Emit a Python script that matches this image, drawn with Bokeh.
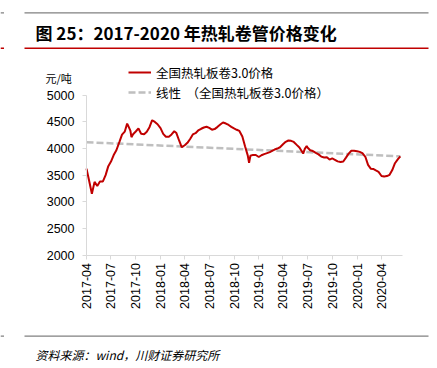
import math
import numpy as np
import pandas as pd
from bokeh.plotting import figure
from bokeh.models import (Range1d, FixedTicker, DatetimeTickFormatter, Label,
                          BoxAnnotation, Legend, LegendItem, ColumnDataSource)
from bokeh.embed import file_html
from bokeh.resources import INLINE

# ---------------- data ----------------
dates = [
    "2017-04-01", "2017-04-11", "2017-04-21", "2017-05-01", "2017-05-11", "2017-05-21",
    "2017-06-01", "2017-06-11", "2017-06-21", "2017-07-01", "2017-07-11", "2017-07-21",
    "2017-08-01", "2017-08-11", "2017-08-21", "2017-08-30", "2017-09-01", "2017-09-11",
    "2017-09-15", "2017-09-21", "2017-10-01", "2017-10-11", "2017-10-21", "2017-11-01",
    "2017-11-11", "2017-11-21", "2017-12-01", "2017-12-11", "2017-12-21", "2018-01-01",
    "2018-01-11", "2018-01-21", "2018-02-01", "2018-02-11", "2018-02-21", "2018-03-01",
    "2018-03-11", "2018-03-21", "2018-04-01", "2018-04-11", "2018-04-21", "2018-05-01",
    "2018-05-11", "2018-05-21", "2018-06-01", "2018-06-11", "2018-06-21", "2018-07-01",
    "2018-07-11", "2018-07-21", "2018-08-01", "2018-08-11", "2018-08-21", "2018-09-01",
    "2018-09-11", "2018-09-21", "2018-10-01", "2018-10-11", "2018-10-21", "2018-11-01",
    "2018-11-11", "2018-11-21", "2018-11-26", "2018-12-01", "2018-12-11", "2018-12-21",
    "2019-01-01", "2019-01-11", "2019-01-21", "2019-02-01", "2019-02-11", "2019-02-21",
    "2019-03-01", "2019-03-11", "2019-03-21", "2019-04-01", "2019-04-11", "2019-04-21",
    "2019-05-01", "2019-05-11", "2019-05-21", "2019-06-01", "2019-06-15", "2019-06-21",
    "2019-06-28", "2019-07-01", "2019-07-11", "2019-07-21", "2019-08-01", "2019-08-11",
    "2019-08-21", "2019-09-01", "2019-09-11", "2019-09-21", "2019-10-01", "2019-10-11",
    "2019-10-21", "2019-11-01", "2019-11-11", "2019-11-21", "2019-12-01", "2019-12-11",
    "2019-12-21", "2020-01-01", "2020-01-11", "2020-01-21", "2020-02-01", "2020-02-11",
    "2020-02-21", "2020-03-01", "2020-03-11", "2020-03-21", "2020-04-01", "2020-04-11",
    "2020-04-21", "2020-05-01", "2020-05-11", "2020-05-21", "2020-06-01", "2020-06-10",
]
prices = [
    3619, 3386, 3149, 3371, 3295, 3380,
    3380, 3497, 3666, 3751, 3874, 3964,
    4115, 4256, 4312, 4463, 4444, 4333,
    4209, 4265, 4316, 4373, 4273, 4265,
    4312, 4397, 4527, 4495, 4452, 4378,
    4271, 4218, 4218, 4260, 4320, 4286,
    4147, 4020, 4058, 4103, 4175, 4260,
    4284, 4335, 4367, 4391, 4405, 4382,
    4350, 4361, 4403, 4446, 4484, 4465,
    4438, 4403, 4373, 4348, 4326, 4222,
    4039, 3868, 3730, 3860, 3877, 3875,
    3838, 3870, 3892, 3911, 3928, 3958,
    3977, 3996, 4020, 4077, 4122, 4147,
    4141, 4120, 4069, 4015, 3902, 3990,
    4045, 4015, 3964, 3949, 3915, 3887,
    3845, 3827, 3832, 3789, 3811, 3785,
    3755, 3742, 3753, 3825, 3900, 3955,
    3956, 3945, 3934, 3911, 3842, 3689,
    3619, 3614, 3585, 3559, 3482, 3472,
    3480, 3504, 3593, 3721, 3798, 3851,
]
# linear trend line (Excel "线性"), end values
trend_dates = ["2017-04-01", "2020-06-10"]
trend_values = [4115, 3850]

y_ticks = [2000, 2500, 3000, 3500, 4000, 4500, 5000]
tick_labels = ["2017-04", "2017-07", "2017-10", "2018-01", "2018-04", "2018-07",
               "2018-10", "2019-01", "2019-04", "2019-07", "2019-10", "2020-01", "2020-04"]
series_name = "全国热轧板卷3.0价格"
trend_name = "线性  （全国热轧板卷3.0价格）"
title_text = "图 25：2017-2020 年热轧卷管价格变化"
unit_text = "元/吨"
source_text = "资料来源：wind，川财证券研究所"
x_start, x_end = "2017-04-01", "2020-06-18"
y_min, y_max = 2000, 5000

# ---------------- layout (pixels) ----------------
W, H = 437, 368
PX_LEFT, PX_RIGHT = 86, 402        # x-axis extent on canvas
PX_TOP, PX_BOTTOM = 94.5, 254.5    # y-axis extent on canvas (from top)

def sy(img_y):  # canvas-from-top -> screen units (from bottom)
    return H - img_y

EPOCH = pd.Timestamp("1970-01-01")
def to_ms(t):
    return (pd.to_datetime(t) - EPOCH) / pd.Timedelta(milliseconds=1)

# ---------------- build ----------------
src = ColumnDataSource(dict(x=pd.to_datetime(dates), y=prices))
trend_src = ColumnDataSource(dict(x=pd.to_datetime(trend_dates), y=trend_values))

tick_ms = [float(v) for v in to_ms(tick_labels)]

xs0, xs1 = float(to_ms(x_start)), float(to_ms(x_end))
per_px = (xs1 - xs0) / (PX_RIGHT - PX_LEFT)
xr = Range1d(xs0 - per_px * PX_LEFT, xs0 + per_px * (W - PX_LEFT))
vpp = (y_max - y_min) / (PX_BOTTOM - PX_TOP)
yr = Range1d(y_min - vpp * (H - PX_BOTTOM), y_max + vpp * PX_TOP)

p = figure(width=W, height=H, x_axis_type="datetime", output_backend="svg",
           toolbar_location=None, x_range=xr, y_range=yr,
           min_border_left=0, min_border_right=0, min_border_top=0, min_border_bottom=0)
p.outline_line_color = None
p.background_fill_color = "white"
p.border_fill_color = "white"
p.xgrid.visible = False
p.ygrid.visible = False

trend = p.line("x", "y", source=trend_src, line_color="#BFBFBF", line_width=2.5, line_dash="7 3")
main = p.line("x", "y", source=src, line_color="#C00000", line_width=2)

AX = "#D9D9D9"
for ax in (p.xaxis[0], p.yaxis[0]):
    ax.axis_line_color = AX
    ax.major_tick_line_color = AX
    ax.minor_tick_line_color = None
    ax.major_tick_in = 0
    ax.major_tick_out = 4
    ax.major_label_text_font = "Liberation Sans"
    ax.major_label_text_font_size = "12.5px"
    ax.major_label_text_color = "#000000"

yax = p.yaxis[0]
yax.ticker = FixedTicker(ticks=y_ticks)
yax.major_label_standoff = 8
yax.bounds = (y_min, y_max)
yax.fixed_location = xs0

xax = p.xaxis[0]
xax.ticker = FixedTicker(ticks=tick_ms)
fmt = "%Y-%m"
xax.formatter = DatetimeTickFormatter(milliseconds=fmt, seconds=fmt, minsec=fmt, minutes=fmt,
                                      hourmin=fmt, hours=fmt, days=fmt, months=fmt, years=fmt)
xax.major_label_orientation = math.pi / 2
xax.major_label_standoff = 4
xax.bounds = (xs0, xs1)
xax.fixed_location = y_min

legend = Legend(items=[LegendItem(label=series_name, renderers=[main]),
                       LegendItem(label=trend_name, renderers=[trend])],
                location=(128, sy(102)), orientation="vertical",
                glyph_width=23, glyph_height=20, label_height=20, spacing=0, padding=0, margin=0,
                label_standoff=5, border_line_color=None, background_fill_alpha=0,
                label_text_font="Noto Sans CJK SC", label_text_font_size="12.5px",
                label_text_color="#000000")
p.add_layout(legend, "center")

p.add_layout(Label(x=45, y=sy(77.5), x_units="screen", y_units="screen", text=unit_text,
                   text_font="Noto Sans CJK SC", text_font_size="11px", text_baseline="middle",
                   text_color="#000000"))
p.add_layout(Label(x=35, y=sy(31.5), x_units="screen", y_units="screen", text=title_text,
                   text_font="Noto Sans CJK SC", text_font_size="17px", text_font_style="bold",
                   text_baseline="middle", text_color="#000000"))
p.add_layout(Label(x=35, y=sy(354), x_units="screen", y_units="screen", text=source_text,
                   text_font="Noto Sans CJK SC", text_font_size="12px", text_font_style="italic",
                   text_baseline="middle", text_color="#000000"))

rules = [(12.3, "#808080", 1.2), (47.7, "#C00000", 1.6), (335.7, "#808080", 1.2)]
for img_y, col, h in rules:
    for l, r in ((24, 428), (0, 3.5)):
        p.add_layout(BoxAnnotation(left=l, right=r, top=sy(img_y - h / 2), bottom=sy(img_y + h / 2),
                                   left_units="screen", right_units="screen",
                                   top_units="screen", bottom_units="screen",
                                   fill_color=col, fill_alpha=1, line_color=None, level="overlay"))

open("out.html", "w").write(file_html(p, INLINE))
